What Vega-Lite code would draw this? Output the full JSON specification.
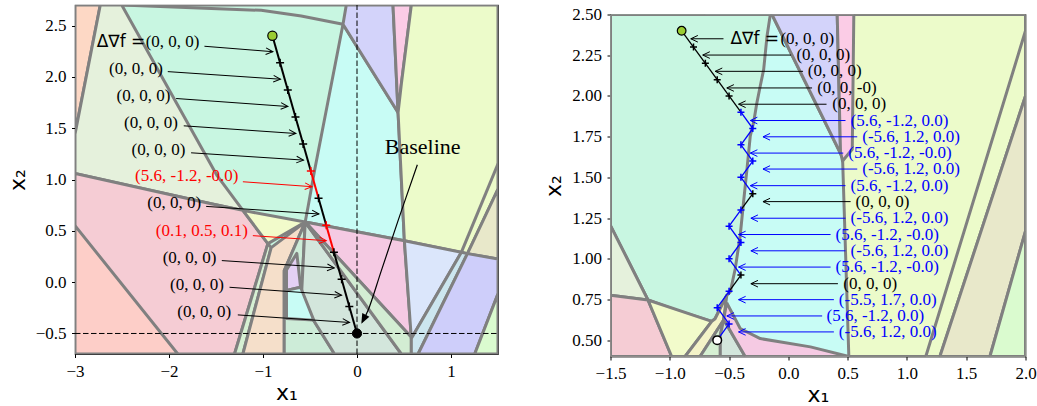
{
"$schema": "https://vega.github.io/schema/vega-lite/v6.json",
"padding": {"left": 5, "top": 4, "right": 0, "bottom": 0},
"spacing": 42.5,
"background": "white",
"config": {
 "view": {"stroke": "#404040", "strokeWidth": 1.2},
 "axis": {"labelFont": "Liberation Serif", "labelFontSize": 17, "labelColor": "#000000", "tickColor": "#000000", "tickSize": 3.5, "tickWidth": 1, "domain": false, "grid": false, "labelPadding": 5.5, "titleFont": "DejaVu Sans", "titleFontSize": 22, "titleFontWeight": "normal", "titleColor": "#000000", "labelFlush": false, "labelOverlap": false, "labelBound": false}
},
"resolve": {"scale": {"x": "independent", "y": "independent", "color": "independent"}},
"datasets": {
 "lpoly": [
  {"id":0,"z":0,"c":"mint","o":0,"x":-3,"y":2.7},{"id":0,"z":0,"c":"mint","o":1,"x":1.5,"y":2.7},{"id":0,"z":0,"c":"mint","o":2,"x":1.5,"y":-0.7},{"id":0,"z":0,"c":"mint","o":3,"x":-3,"y":-0.7},{"id":0,"z":0,"c":"mint","o":4,"x":-3,"y":2.7},
  {"id":1,"z":1,"c":"peach","o":0,"x":-3,"y":2.7},{"id":1,"z":1,"c":"peach","o":1,"x":-2.731,"y":2.7},{"id":1,"z":1,"c":"peach","o":2,"x":-3,"y":1.442},{"id":1,"z":1,"c":"peach","o":3,"x":-3,"y":2.7},
  {"id":2,"z":1,"c":"beige","o":0,"x":-2.731,"y":2.7},{"id":2,"z":1,"c":"beige","o":1,"x":-2.503,"y":2.7},{"id":2,"z":1,"c":"beige","o":2,"x":-1.488,"y":1.037},{"id":2,"z":1,"c":"beige","o":3,"x":-1.214,"y":0.699},{"id":2,"z":1,"c":"beige","o":4,"x":-1.552,"y":0.764},{"id":2,"z":1,"c":"beige","o":5,"x":-3,"y":1.059},{"id":2,"z":1,"c":"beige","o":6,"x":-3,"y":1.442},{"id":2,"z":1,"c":"beige","o":7,"x":-2.731,"y":2.7},
  {"id":3,"z":1,"c":"cyan","o":0,"x":-0.149,"y":2.512},{"id":3,"z":1,"c":"cyan","o":1,"x":0.437,"y":1.652},{"id":3,"z":1,"c":"cyan","o":2,"x":0.504,"y":0.404},{"id":3,"z":1,"c":"cyan","o":3,"x":-0.551,"y":0.585},{"id":3,"z":1,"c":"cyan","o":4,"x":-0.522,"y":0.728},{"id":3,"z":1,"c":"cyan","o":5,"x":-0.452,"y":1.085},{"id":3,"z":1,"c":"cyan","o":6,"x":-0.149,"y":2.512},
  {"id":4,"z":1,"c":"lav","o":0,"x":-0.114,"y":2.7},{"id":4,"z":1,"c":"lav","o":1,"x":0.383,"y":2.7},{"id":4,"z":1,"c":"lav","o":2,"x":0.437,"y":1.652},{"id":4,"z":1,"c":"lav","o":3,"x":-0.149,"y":2.512},{"id":4,"z":1,"c":"lav","o":4,"x":-0.114,"y":2.7},
  {"id":5,"z":1,"c":"pinkw","o":0,"x":0.383,"y":2.7},{"id":5,"z":1,"c":"pinkw","o":1,"x":0.578,"y":2.7},{"id":5,"z":1,"c":"pinkw","o":2,"x":0.472,"y":1.932},{"id":5,"z":1,"c":"pinkw","o":3,"x":0.437,"y":1.652},{"id":5,"z":1,"c":"pinkw","o":4,"x":0.383,"y":2.7},
  {"id":6,"z":1,"c":"yg","o":0,"x":0.578,"y":2.7},{"id":6,"z":1,"c":"yg","o":1,"x":1.5,"y":2.7},{"id":6,"z":1,"c":"yg","o":2,"x":1.5,"y":0.907},{"id":6,"z":1,"c":"yg","o":3,"x":1.175,"y":0.278},{"id":6,"z":1,"c":"yg","o":4,"x":0.504,"y":0.404},{"id":6,"z":1,"c":"yg","o":5,"x":0.437,"y":1.652},{"id":6,"z":1,"c":"yg","o":6,"x":0.472,"y":1.932},{"id":6,"z":1,"c":"yg","o":7,"x":0.578,"y":2.7},
  {"id":7,"z":1,"c":"khaki","o":0,"x":1.5,"y":0.907},{"id":7,"z":1,"c":"khaki","o":1,"x":1.5,"y":0.226},{"id":7,"z":1,"c":"khaki","o":2,"x":1.175,"y":0.278},{"id":7,"z":1,"c":"khaki","o":3,"x":1.5,"y":0.907},
  {"id":8,"z":1,"c":"pink","o":0,"x":-3,"y":1.059},{"id":8,"z":1,"c":"pink","o":1,"x":-1.552,"y":0.764},{"id":8,"z":1,"c":"pink","o":2,"x":-1.214,"y":0.699},{"id":8,"z":1,"c":"pink","o":3,"x":-0.948,"y":0.375},{"id":8,"z":1,"c":"pink","o":4,"x":-1.303,"y":-0.7},{"id":8,"z":1,"c":"pink","o":5,"x":-3,"y":-0.7},{"id":8,"z":1,"c":"pink","o":6,"x":-3,"y":1.059},
  {"id":9,"z":2,"c":"salmon","o":0,"x":-3,"y":0.55},{"id":9,"z":2,"c":"salmon","o":1,"x":-1.906,"y":-0.7},{"id":9,"z":2,"c":"salmon","o":2,"x":-3,"y":-0.7},{"id":9,"z":2,"c":"salmon","o":3,"x":-3,"y":0.55},
  {"id":10,"z":1,"c":"yellow","o":0,"x":-1.214,"y":0.699},{"id":10,"z":1,"c":"yellow","o":1,"x":-0.551,"y":0.585},{"id":10,"z":1,"c":"yellow","o":2,"x":-0.948,"y":0.375},{"id":10,"z":1,"c":"yellow","o":3,"x":-1.214,"y":0.699},
  {"id":11,"z":1,"c":"lgs","o":0,"x":-0.948,"y":0.375},{"id":11,"z":1,"c":"lgs","o":1,"x":-0.913,"y":0.336},{"id":11,"z":1,"c":"lgs","o":2,"x":-1.214,"y":-0.7},{"id":11,"z":1,"c":"lgs","o":3,"x":-1.303,"y":-0.7},{"id":11,"z":1,"c":"lgs","o":4,"x":-0.948,"y":0.375},
  {"id":12,"z":1,"c":"peach2","o":0,"x":-0.913,"y":0.336},{"id":12,"z":1,"c":"peach2","o":1,"x":-0.551,"y":0.585},{"id":12,"z":1,"c":"peach2","o":2,"x":-0.774,"y":0.112},{"id":12,"z":1,"c":"peach2","o":3,"x":-0.774,"y":-0.7},{"id":12,"z":1,"c":"peach2","o":4,"x":-1.214,"y":-0.7},{"id":12,"z":1,"c":"peach2","o":5,"x":-0.913,"y":0.336},
  {"id":13,"z":1,"c":"mintg","o":0,"x":-0.551,"y":0.585},{"id":13,"z":1,"c":"mintg","o":1,"x":-0.593,"y":-0.179},{"id":13,"z":1,"c":"mintg","o":2,"x":-0.239,"y":-0.7},{"id":13,"z":1,"c":"mintg","o":3,"x":-0.774,"y":-0.7},{"id":13,"z":1,"c":"mintg","o":4,"x":-0.774,"y":0.112},{"id":13,"z":1,"c":"mintg","o":5,"x":-0.551,"y":0.585},
  {"id":14,"z":2,"c":"lavp","o":0,"x":-0.75,"y":0.12},{"id":14,"z":2,"c":"lavp","o":1,"x":-0.64,"y":0.28},{"id":14,"z":2,"c":"lavp","o":2,"x":-0.6,"y":-0.05},{"id":14,"z":2,"c":"lavp","o":3,"x":-0.75,"y":-0.08},{"id":14,"z":2,"c":"lavp","o":4,"x":-0.75,"y":0.12},
  {"id":15,"z":2,"c":"cyan","o":0,"x":-0.75,"y":-0.08},{"id":15,"z":2,"c":"cyan","o":1,"x":-0.6,"y":-0.05},{"id":15,"z":2,"c":"cyan","o":2,"x":-0.46,"y":-0.37},{"id":15,"z":2,"c":"cyan","o":3,"x":-0.75,"y":-0.354},{"id":15,"z":2,"c":"cyan","o":4,"x":-0.75,"y":-0.08},
  {"id":16,"z":1,"c":"gg","o":0,"x":-0.551,"y":0.585},{"id":16,"z":1,"c":"gg","o":1,"x":0.472,"y":-0.7},{"id":16,"z":1,"c":"gg","o":2,"x":-0.239,"y":-0.7},{"id":16,"z":1,"c":"gg","o":3,"x":-0.593,"y":-0.179},{"id":16,"z":1,"c":"gg","o":4,"x":-0.551,"y":0.585},
  {"id":17,"z":1,"c":"pinkm","o":0,"x":-0.551,"y":0.585},{"id":17,"z":1,"c":"pinkm","o":1,"x":0.504,"y":0.404},{"id":17,"z":1,"c":"pinkm","o":2,"x":0.578,"y":-0.536},{"id":17,"z":1,"c":"pinkm","o":3,"x":-0.551,"y":0.585},
  {"id":18,"z":1,"c":"lgs2","o":0,"x":-0.551,"y":0.585},{"id":18,"z":1,"c":"lgs2","o":1,"x":0.578,"y":-0.536},{"id":18,"z":1,"c":"lgs2","o":2,"x":0.578,"y":-0.7},{"id":18,"z":1,"c":"lgs2","o":3,"x":0.472,"y":-0.7},{"id":18,"z":1,"c":"lgs2","o":4,"x":-0.551,"y":0.585},
  {"id":19,"z":1,"c":"lblue","o":0,"x":0.504,"y":0.404},{"id":19,"z":1,"c":"lblue","o":1,"x":1.111,"y":0.292},{"id":19,"z":1,"c":"lblue","o":2,"x":0.578,"y":-0.55},{"id":19,"z":1,"c":"lblue","o":3,"x":0.504,"y":0.404},
  {"id":20,"z":1,"c":"lcs","o":0,"x":1.111,"y":0.292},{"id":20,"z":1,"c":"lcs","o":1,"x":1.175,"y":0.278},{"id":20,"z":1,"c":"lcs","o":2,"x":0.65,"y":-0.7},{"id":20,"z":1,"c":"lcs","o":3,"x":0.578,"y":-0.7},{"id":20,"z":1,"c":"lcs","o":4,"x":0.578,"y":-0.55},{"id":20,"z":1,"c":"lcs","o":5,"x":1.111,"y":0.292},
  {"id":21,"z":1,"c":"lav2","o":0,"x":1.175,"y":0.278},{"id":21,"z":1,"c":"lav2","o":1,"x":1.5,"y":0.226},{"id":21,"z":1,"c":"lav2","o":2,"x":1.5,"y":-0.114},{"id":21,"z":1,"c":"lav2","o":3,"x":1.252,"y":-0.7},{"id":21,"z":1,"c":"lav2","o":4,"x":0.65,"y":-0.7},{"id":21,"z":1,"c":"lav2","o":5,"x":1.175,"y":0.278},
  {"id":22,"z":1,"c":"lg3","o":0,"x":1.5,"y":-0.114},{"id":22,"z":1,"c":"lg3","o":1,"x":1.5,"y":-0.7},{"id":22,"z":1,"c":"lg3","o":2,"x":1.252,"y":-0.7},{"id":22,"z":1,"c":"lg3","o":3,"x":1.5,"y":-0.114}
 ],
 "lline": [
  {"id":0,"o":0,"x":-2.503,"y":2.7},{"id":0,"o":1,"x":-1.019,"y":2.648},{"id":0,"o":2,"x":-0.593,"y":2.593},{"id":0,"o":3,"x":-0.149,"y":2.512},
  {"id":1,"o":0,"x":1.5,"y":1.153},{"id":1,"o":1,"x":1.111,"y":0.292}
 ],
 "ldash": [{"x":0,"y":-0.7,"x2":0,"y2":2.7},{"x":-3,"y":-0.5,"x2":1.5,"y2":-0.5}],
 "lseg": [
  {"x":-0.9,"y":2.4,"x2":-0.8182,"y2":2.1364,"t":"k"},
  {"x":-0.8182,"y":2.1364,"x2":-0.7364,"y2":1.8727,"t":"k"},
  {"x":-0.7364,"y":1.8727,"x2":-0.6545,"y2":1.6091,"t":"k"},
  {"x":-0.6545,"y":1.6091,"x2":-0.5727,"y2":1.3455,"t":"k"},
  {"x":-0.5727,"y":1.3455,"x2":-0.4909,"y2":1.0818,"t":"k"},
  {"x":-0.4909,"y":1.0818,"x2":-0.4091,"y2":0.8182,"t":"r"},
  {"x":-0.4091,"y":0.8182,"x2":-0.3273,"y2":0.5545,"t":"k"},
  {"x":-0.3273,"y":0.5545,"x2":-0.2455,"y2":0.2909,"t":"r"},
  {"x":-0.2455,"y":0.2909,"x2":-0.1636,"y2":0.0273,"t":"k"},
  {"x":-0.1636,"y":0.0273,"x2":-0.0818,"y2":-0.2364,"t":"k"},
  {"x":-0.0818,"y":-0.2364,"x2":0,"y2":-0.5,"t":"k"}
 ],
 "lmk": [
  {"x":-0.8182,"y":2.1364,"t":"k"},{"x":-0.7364,"y":1.8727,"t":"k"},{"x":-0.6545,"y":1.6091,"t":"k"},{"x":-0.5727,"y":1.3455,"t":"k"},{"x":-0.4909,"y":1.0818,"t":"r"},
  {"x":-0.4091,"y":0.8182,"t":"k"},{"x":-0.3273,"y":0.5545,"t":"r"},{"x":-0.2455,"y":0.2909,"t":"k"},{"x":-0.1636,"y":0.0273,"t":"k"},{"x":-0.0818,"y":-0.2364,"t":"k"}
 ],
 "larr": [
  {"x":-1.623,"y":2.298,"x2":-0.895,"y2":2.245,"t":"k"},
  {"x":-2.013,"y":2.051,"x2":-0.814,"y2":1.977,"t":"k"},
  {"x":-1.924,"y":1.789,"x2":-0.735,"y2":1.711,"t":"k"},
  {"x":-1.843,"y":1.523,"x2":-0.65,"y2":1.448,"t":"k"},
  {"x":-1.765,"y":1.26,"x2":-0.569,"y2":1.189,"t":"k"},
  {"x":-1.214,"y":0.978,"x2":-0.479,"y2":0.93,"t":"r"},
  {"x":-1.605,"y":0.738,"x2":-0.405,"y2":0.664,"t":"k"},
  {"x":-1.108,"y":0.453,"x2":-0.327,"y2":0.404,"t":"r"},
  {"x":-1.438,"y":0.21,"x2":-0.242,"y2":0.139,"t":"k"},
  {"x":-1.356,"y":-0.05,"x2":-0.164,"y2":-0.128,"t":"k"},
  {"x":-1.268,"y":-0.319,"x2":-0.079,"y2":-0.393,"t":"k"}
 ],
 "lhead": [
  {"x":-0.895,"y":2.245,"t":"k"},{"x":-0.814,"y":1.977,"t":"k"},{"x":-0.735,"y":1.711,"t":"k"},{"x":-0.65,"y":1.448,"t":"k"},{"x":-0.569,"y":1.189,"t":"k"},
  {"x":-0.479,"y":0.93,"t":"r"},{"x":-0.405,"y":0.664,"t":"k"},{"x":-0.327,"y":0.404,"t":"r"},{"x":-0.242,"y":0.139,"t":"k"},{"x":-0.164,"y":-0.128,"t":"k"},{"x":-0.079,"y":-0.393,"t":"k"}
 ],
 "ltxt": [
  {"x":-1.676,"y":2.343,"s":"(0, 0, 0)","t":"k"},
  {"x":-2.066,"y":2.077,"s":"(0, 0, 0)","t":"k"},
  {"x":-1.985,"y":1.815,"s":"(0, 0, 0)","t":"k"},
  {"x":-1.906,"y":1.549,"s":"(0, 0, 0)","t":"k"},
  {"x":-1.826,"y":1.286,"s":"(0, 0, 0)","t":"k"},
  {"x":-1.261,"y":1.03,"s":"(5.6, -1.2, -0.0)","t":"r"},
  {"x":-1.658,"y":0.767,"s":"(0, 0, 0)","t":"k"},
  {"x":-1.161,"y":0.502,"s":"(0.1, 0.5, 0.1)","t":"r"},
  {"x":-1.495,"y":0.239,"s":"(0, 0, 0)","t":"k"},
  {"x":-1.416,"y":-0.027,"s":"(0, 0, 0)","t":"k"},
  {"x":-1.339,"y":-0.29,"s":"(0, 0, 0)","t":"k"}
 ],
 "ldel": [{"x":-2.252,"y":2.343,"s":"Δ∇f ="}],
 "lbl": [{"x":0.699,"y":1.321,"s":"Baseline"}],
 "lcurve": [{"o":0,"x":0.642,"y":1.144},{"o":1,"x":0.437,"y":0.599},{"o":2,"x":0.259,"y":0.112},{"o":3,"x":0.117,"y":-0.277},{"o":4,"x":0.055,"y":-0.39}],
 "lbhead": [{"x":0.046,"y":-0.406}],
 "lstart": [{"x":-0.9,"y":2.4}],
 "lend": [{"x":0,"y":-0.5}],
 "rpoly": [
  {"id":0,"z":0,"c":"yg","o":0,"x":-1.5,"y":2.5},{"id":0,"z":0,"c":"yg","o":1,"x":2,"y":2.5},{"id":0,"z":0,"c":"yg","o":2,"x":2,"y":0.4},{"id":0,"z":0,"c":"yg","o":3,"x":-1.5,"y":0.4},{"id":0,"z":0,"c":"yg","o":4,"x":-1.5,"y":2.5},
  {"id":1,"z":1,"c":"cyan","o":0,"x":-0.3,"y":2.5},{"id":1,"z":1,"c":"cyan","o":1,"x":-0.138,"y":2.5},{"id":1,"z":1,"c":"cyan","o":2,"x":0.457,"y":1.622},{"id":1,"z":1,"c":"cyan","o":3,"x":0.51,"y":0.4},{"id":1,"z":1,"c":"cyan","o":4,"x":-0.7,"y":0.4},{"id":1,"z":1,"c":"cyan","o":5,"x":-0.7,"y":2.5},{"id":1,"z":1,"c":"cyan","o":6,"x":-0.3,"y":2.5},
  {"id":2,"z":1,"c":"lav","o":0,"x":-0.138,"y":2.5},{"id":2,"z":1,"c":"lav","o":1,"x":0.412,"y":2.5},{"id":2,"z":1,"c":"lav","o":2,"x":0.44,"y":1.653},{"id":2,"z":1,"c":"lav","o":3,"x":0.457,"y":1.622},{"id":2,"z":1,"c":"lav","o":4,"x":-0.138,"y":2.5},
  {"id":3,"z":1,"c":"pinkw","o":0,"x":0.412,"y":2.5},{"id":3,"z":1,"c":"pinkw","o":1,"x":0.552,"y":2.5},{"id":3,"z":1,"c":"pinkw","o":2,"x":0.539,"y":1.673},{"id":3,"z":1,"c":"pinkw","o":3,"x":0.457,"y":1.6},{"id":3,"z":1,"c":"pinkw","o":4,"x":0.44,"y":1.653},{"id":3,"z":1,"c":"pinkw","o":5,"x":0.412,"y":2.5},
  {"id":4,"z":1,"c":"yg","o":0,"x":2,"y":2.4},{"id":4,"z":1,"c":"yg","o":1,"x":2,"y":2.0},{"id":4,"z":1,"c":"yg","o":2,"x":1.278,"y":0.4},{"id":4,"z":1,"c":"yg","o":3,"x":1.159,"y":0.4},{"id":4,"z":1,"c":"yg","o":4,"x":2,"y":2.4},
  {"id":5,"z":1,"c":"khaki","o":0,"x":2,"y":2.0},{"id":5,"z":1,"c":"khaki","o":1,"x":2,"y":1.17},{"id":5,"z":1,"c":"khaki","o":2,"x":1.7,"y":0.4},{"id":5,"z":1,"c":"khaki","o":3,"x":1.278,"y":0.4},{"id":5,"z":1,"c":"khaki","o":4,"x":2,"y":2.0},
  {"id":6,"z":1,"c":"lg3","o":0,"x":2,"y":1.17},{"id":6,"z":1,"c":"lg3","o":1,"x":2,"y":0.4},{"id":6,"z":1,"c":"lg3","o":2,"x":1.7,"y":0.4},{"id":6,"z":1,"c":"lg3","o":3,"x":2,"y":1.17},
  {"id":7,"z":2,"c":"mint","o":0,"x":-1.5,"y":2.5},{"id":7,"z":2,"c":"mint","o":1,"x":-0.152,"y":2.5},{"id":7,"z":2,"c":"mint","o":2,"x":-0.18,"y":2.367},{"id":7,"z":2,"c":"mint","o":3,"x":-0.208,"y":2.163},{"id":7,"z":2,"c":"mint","o":4,"x":-0.237,"y":2.061},{"id":7,"z":2,"c":"mint","o":5,"x":-0.265,"y":1.959},{"id":7,"z":2,"c":"mint","o":6,"x":-0.293,"y":1.837},{"id":7,"z":2,"c":"mint","o":7,"x":-0.321,"y":1.755},{"id":7,"z":2,"c":"mint","o":8,"x":-0.349,"y":1.551},{"id":7,"z":2,"c":"mint","o":9,"x":-0.378,"y":1.347},{"id":7,"z":2,"c":"mint","o":10,"x":-0.406,"y":1.143},{"id":7,"z":2,"c":"mint","o":11,"x":-0.448,"y":0.939},{"id":7,"z":2,"c":"mint","o":12,"x":-0.49,"y":0.796},{"id":7,"z":2,"c":"mint","o":13,"x":-0.519,"y":0.776},{"id":7,"z":2,"c":"mint","o":14,"x":-0.618,"y":0.632},{"id":7,"z":2,"c":"mint","o":15,"x":-0.646,"y":0.616},{"id":7,"z":2,"c":"mint","o":16,"x":-0.9,"y":0.673},{"id":7,"z":2,"c":"mint","o":17,"x":-1.184,"y":0.747},{"id":7,"z":2,"c":"mint","o":18,"x":-1.5,"y":1.204},{"id":7,"z":2,"c":"mint","o":19,"x":-1.5,"y":2.5},
  {"id":8,"z":2,"c":"beige","o":0,"x":-1.5,"y":1.204},{"id":8,"z":2,"c":"beige","o":1,"x":-1.184,"y":0.747},{"id":8,"z":2,"c":"beige","o":2,"x":-1.5,"y":0.776},{"id":8,"z":2,"c":"beige","o":3,"x":-1.5,"y":1.204},
  {"id":9,"z":2,"c":"pink","o":0,"x":-1.5,"y":0.776},{"id":9,"z":2,"c":"pink","o":1,"x":-1.184,"y":0.747},{"id":9,"z":2,"c":"pink","o":2,"x":-0.984,"y":0.4},{"id":9,"z":2,"c":"pink","o":3,"x":-1.5,"y":0.4},{"id":9,"z":2,"c":"pink","o":4,"x":-1.5,"y":0.776},
  {"id":10,"z":2,"c":"yellow","o":0,"x":-1.184,"y":0.747},{"id":10,"z":2,"c":"yellow","o":1,"x":-0.646,"y":0.616},{"id":10,"z":2,"c":"yellow","o":2,"x":-0.871,"y":0.4},{"id":10,"z":2,"c":"yellow","o":3,"x":-0.984,"y":0.4},{"id":10,"z":2,"c":"yellow","o":4,"x":-1.184,"y":0.747},
  {"id":11,"z":2,"c":"pys","o":0,"x":-0.646,"y":0.616},{"id":11,"z":2,"c":"pys","o":1,"x":-0.618,"y":0.632},{"id":11,"z":2,"c":"pys","o":2,"x":-0.519,"y":0.776},{"id":11,"z":2,"c":"pys","o":3,"x":-0.547,"y":0.622},{"id":11,"z":2,"c":"pys","o":4,"x":-0.745,"y":0.4},{"id":11,"z":2,"c":"pys","o":5,"x":-0.871,"y":0.4},{"id":11,"z":2,"c":"pys","o":6,"x":-0.646,"y":0.616},
  {"id":12,"z":2,"c":"lgs","o":0,"x":-0.745,"y":0.4},{"id":12,"z":2,"c":"lgs","o":1,"x":-0.547,"y":0.622},{"id":12,"z":2,"c":"lgs","o":2,"x":-0.574,"y":0.53},{"id":12,"z":2,"c":"lgs","o":3,"x":-0.574,"y":0.4},{"id":12,"z":2,"c":"lgs","o":4,"x":-0.745,"y":0.4},
  {"id":13,"z":2,"c":"gg","o":0,"x":-0.574,"y":0.4},{"id":13,"z":2,"c":"gg","o":1,"x":-0.574,"y":0.53},{"id":13,"z":2,"c":"gg","o":2,"x":-0.547,"y":0.622},{"id":13,"z":2,"c":"gg","o":3,"x":-0.533,"y":0.612},{"id":13,"z":2,"c":"gg","o":4,"x":-0.364,"y":0.4},{"id":13,"z":2,"c":"gg","o":5,"x":-0.574,"y":0.4},
  {"id":14,"z":2,"c":"pinkm","o":0,"x":-0.52,"y":0.73},{"id":14,"z":2,"c":"pinkm","o":1,"x":-0.406,"y":0.572},{"id":14,"z":2,"c":"pinkm","o":2,"x":-0.237,"y":0.51},{"id":14,"z":2,"c":"pinkm","o":3,"x":0.186,"y":0.459},{"id":14,"z":2,"c":"pinkm","o":4,"x":0.51,"y":0.4},{"id":14,"z":2,"c":"pinkm","o":5,"x":-0.364,"y":0.4},{"id":14,"z":2,"c":"pinkm","o":6,"x":-0.533,"y":0.612},{"id":14,"z":2,"c":"pinkm","o":7,"x":-0.547,"y":0.622},{"id":14,"z":2,"c":"pinkm","o":8,"x":-0.52,"y":0.73}
 ],
 "rseg": [
  {"x":-0.9,"y":2.4,"x2":-0.8,"y2":2.3,"t":"k"},{"x":-0.8,"y":2.3,"x2":-0.7,"y2":2.2,"t":"k"},{"x":-0.7,"y":2.2,"x2":-0.6,"y2":2.1,"t":"k"},{"x":-0.6,"y":2.1,"x2":-0.5,"y2":2.0,"t":"k"},{"x":-0.5,"y":2.0,"x2":-0.4,"y2":1.9,"t":"k"},
  {"x":-0.4,"y":1.9,"x2":-0.3,"y2":1.8,"t":"b"},{"x":-0.3,"y":1.8,"x2":-0.4,"y2":1.7,"t":"b"},{"x":-0.4,"y":1.7,"x2":-0.3,"y2":1.6,"t":"b"},{"x":-0.3,"y":1.6,"x2":-0.4,"y2":1.5,"t":"b"},{"x":-0.4,"y":1.5,"x2":-0.3,"y2":1.4,"t":"b"},
  {"x":-0.3,"y":1.4,"x2":-0.4,"y2":1.3,"t":"k"},
  {"x":-0.4,"y":1.3,"x2":-0.5,"y2":1.2,"t":"b"},{"x":-0.5,"y":1.2,"x2":-0.4,"y2":1.1,"t":"b"},{"x":-0.4,"y":1.1,"x2":-0.5,"y2":1.0,"t":"b"},{"x":-0.5,"y":1.0,"x2":-0.4,"y2":0.9,"t":"b"},
  {"x":-0.4,"y":0.9,"x2":-0.5,"y2":0.8,"t":"k"},
  {"x":-0.5,"y":0.8,"x2":-0.6,"y2":0.7,"t":"b"},{"x":-0.6,"y":0.7,"x2":-0.5,"y2":0.6,"t":"b"},{"x":-0.5,"y":0.6,"x2":-0.6,"y2":0.5,"t":"b"}
 ],
 "rmk": [
  {"x":-0.8,"y":2.3,"t":"k"},{"x":-0.7,"y":2.2,"t":"k"},{"x":-0.6,"y":2.1,"t":"k"},{"x":-0.5,"y":2.0,"t":"k"},{"x":-0.4,"y":1.9,"t":"b"},{"x":-0.3,"y":1.8,"t":"b"},
  {"x":-0.4,"y":1.7,"t":"b"},{"x":-0.3,"y":1.6,"t":"b"},{"x":-0.4,"y":1.5,"t":"b"},{"x":-0.3,"y":1.4,"t":"k"},{"x":-0.4,"y":1.3,"t":"b"},{"x":-0.5,"y":1.2,"t":"b"},
  {"x":-0.4,"y":1.1,"t":"b"},{"x":-0.5,"y":1.0,"t":"b"},{"x":-0.4,"y":0.9,"t":"k"},{"x":-0.5,"y":0.8,"t":"b"},{"x":-0.6,"y":0.7,"t":"b"},{"x":-0.5,"y":0.6,"t":"b"}
 ],
 "rarr": [
  {"x":-0.547,"x2":-0.823,"y":2.351,"y2":2.351,"t":"k"},{"x":0.023,"x2":-0.722,"y":2.251,"y2":2.251,"t":"k"},{"x":0.124,"x2":-0.617,"y":2.151,"y2":2.151,"t":"k"},{"x":0.2,"x2":-0.519,"y":2.049,"y2":2.049,"t":"k"},{"x":0.322,"x2":-0.42,"y":1.949,"y2":1.949,"t":"k"},
  {"x":0.482,"x2":-0.321,"y":1.849,"y2":1.849,"t":"b"},{"x":0.581,"x2":-0.214,"y":1.749,"y2":1.749,"t":"b"},{"x":0.463,"x2":-0.321,"y":1.649,"y2":1.649,"t":"b"},{"x":0.581,"x2":-0.214,"y":1.551,"y2":1.551,"t":"b"},{"x":0.482,"x2":-0.321,"y":1.449,"y2":1.449,"t":"b"},
  {"x":0.525,"x2":-0.214,"y":1.351,"y2":1.351,"t":"k"},{"x":0.482,"x2":-0.316,"y":1.249,"y2":1.249,"t":"b"},{"x":0.356,"x2":-0.42,"y":1.149,"y2":1.149,"t":"b"},{"x":0.482,"x2":-0.316,"y":1.049,"y2":1.049,"t":"b"},{"x":0.356,"x2":-0.42,"y":0.949,"y2":0.949,"t":"b"},
  {"x":0.418,"x2":-0.316,"y":0.847,"y2":0.847,"t":"k"},{"x":0.384,"x2":-0.42,"y":0.749,"y2":0.749,"t":"b"},{"x":0.285,"x2":-0.519,"y":0.649,"y2":0.649,"t":"b"},{"x":0.384,"x2":-0.42,"y":0.551,"y2":0.551,"t":"b"}
 ],
 "rhead": [
  {"x":-0.823,"y":2.351,"t":"k"},{"x":-0.722,"y":2.251,"t":"k"},{"x":-0.617,"y":2.151,"t":"k"},{"x":-0.519,"y":2.049,"t":"k"},{"x":-0.42,"y":1.949,"t":"k"},
  {"x":-0.321,"y":1.849,"t":"b"},{"x":-0.214,"y":1.749,"t":"b"},{"x":-0.321,"y":1.649,"t":"b"},{"x":-0.214,"y":1.551,"t":"b"},{"x":-0.321,"y":1.449,"t":"b"},
  {"x":-0.214,"y":1.351,"t":"k"},{"x":-0.316,"y":1.249,"t":"b"},{"x":-0.42,"y":1.149,"t":"b"},{"x":-0.316,"y":1.049,"t":"b"},{"x":-0.42,"y":0.949,"t":"b"},
  {"x":-0.316,"y":0.847,"t":"k"},{"x":-0.42,"y":0.749,"t":"b"},{"x":-0.519,"y":0.649,"t":"b"},{"x":-0.42,"y":0.551,"t":"b"}
 ],
 "rtxt": [
  {"x":-0.067,"y":2.351,"s":"(0, 0, 0)","t":"k"},{"x":0.068,"y":2.251,"s":"(0, 0, 0)","t":"k"},{"x":0.164,"y":2.151,"s":"(0, 0, 0)","t":"k"},{"x":0.243,"y":2.049,"s":"(0, 0, -0)","t":"k"},{"x":0.37,"y":1.949,"s":"(0, 0, 0)","t":"k"},
  {"x":0.525,"y":1.849,"s":"(5.6, -1.2, 0.0)","t":"b"},{"x":0.623,"y":1.749,"s":"(-5.6, 1.2, 0.0)","t":"b"},{"x":0.505,"y":1.649,"s":"(5.6, -1.2, -0.0)","t":"b"},{"x":0.623,"y":1.551,"s":"(-5.6, 1.2, 0.0)","t":"b"},{"x":0.525,"y":1.449,"s":"(5.6, -1.2, 0.0)","t":"b"},
  {"x":0.567,"y":1.351,"s":"(0, 0, 0)","t":"k"},{"x":0.525,"y":1.249,"s":"(-5.6, 1.2, 0.0)","t":"b"},{"x":0.398,"y":1.149,"s":"(5.6, -1.2, -0.0)","t":"b"},{"x":0.525,"y":1.049,"s":"(-5.6, 1.2, 0.0)","t":"b"},{"x":0.398,"y":0.949,"s":"(5.6, -1.2, -0.0)","t":"b"},
  {"x":0.463,"y":0.847,"s":"(0, 0, 0)","t":"k"},{"x":0.426,"y":0.749,"s":"(-5.5, 1.7, 0.0)","t":"b"},{"x":0.322,"y":0.649,"s":"(5.6, -1.2, 0.0)","t":"b"},{"x":0.426,"y":0.551,"s":"(-5.6, 1.2, 0.0)","t":"b"}
 ],
 "rdel": [{"x":-0.078,"y":2.351,"s":"Δ∇f ="}],
 "rstart": [{"x":-0.9,"y":2.4}],
 "rend": [{"x":-0.6,"y":0.5}]
},
"hconcat": [
 {
  "width": 423, "height": 349,
  "resolve": {"scale": {"color": "independent"}},
  "encoding": {
   "x": {"field": "x", "type": "quantitative", "scale": {"domain": [-3, 1.5], "nice": false, "zero": false}, "axis": {"values": [-3, -2, -1, 0, 1], "format": "d", "title": "x₁", "titlePadding": 3}},
   "y": {"field": "y", "type": "quantitative", "scale": {"domain": [-0.7, 2.7], "nice": false, "zero": false}, "axis": {"values": [-0.5, 0, 0.5, 1, 1.5, 2, 2.5], "format": ".1f", "title": "x₂", "titlePadding": 6}}
  },
  "layer": [
   {"data": {"name": "lpoly"}, "transform": [{"filter": "datum.z == 0"}], "mark": {"type": "line", "filled": true, "stroke": "#808080", "strokeWidth": 3, "strokeJoin": "round", "clip": true}, "encoding": {"color": {"field": "c", "type": "nominal", "legend": null, "scale": {"domain": ["mint","peach","beige","cyan","lav","pinkw","yg","khaki","pink","salmon","yellow","lgs","peach2","mintg","lavp","gg","pinkm","lgs2","lblue","lcs","lav2","lg3","pys"], "range": ["#c8f6e1","#fdd8c5","#e5f1dc","#c8fcf5","#d3d3fa","#fbcce6","#ecfbca","#e8e8ca","#f5ccd4","#fdcec8","#f2fbcb","#d6f0d3","#f5dfca","#cdecd8","#e4d0f4","#d3e6dc","#f5cae3","#d3edd3","#dbe6fb","#cce6ef","#cecefa","#dafbcf","#f4f3c8"]}}, "detail": {"field": "id"}, "order": {"field": "o", "type": "quantitative"}}},
   {"data": {"name": "lpoly"}, "transform": [{"filter": "datum.z == 1"}], "mark": {"type": "line", "filled": true, "stroke": "#808080", "strokeWidth": 3, "strokeJoin": "round", "clip": true}, "encoding": {"color": {"field": "c", "type": "nominal", "legend": null, "scale": {"domain": ["mint","peach","beige","cyan","lav","pinkw","yg","khaki","pink","salmon","yellow","lgs","peach2","mintg","lavp","gg","pinkm","lgs2","lblue","lcs","lav2","lg3","pys"], "range": ["#c8f6e1","#fdd8c5","#e5f1dc","#c8fcf5","#d3d3fa","#fbcce6","#ecfbca","#e8e8ca","#f5ccd4","#fdcec8","#f2fbcb","#d6f0d3","#f5dfca","#cdecd8","#e4d0f4","#d3e6dc","#f5cae3","#d3edd3","#dbe6fb","#cce6ef","#cecefa","#dafbcf","#f4f3c8"]}}, "detail": {"field": "id"}, "order": {"field": "o", "type": "quantitative"}}},
   {"data": {"name": "lpoly"}, "transform": [{"filter": "datum.z == 2"}], "mark": {"type": "line", "filled": true, "stroke": "#808080", "strokeWidth": 3, "strokeJoin": "round", "clip": true}, "encoding": {"color": {"field": "c", "type": "nominal", "legend": null, "scale": {"domain": ["mint","peach","beige","cyan","lav","pinkw","yg","khaki","pink","salmon","yellow","lgs","peach2","mintg","lavp","gg","pinkm","lgs2","lblue","lcs","lav2","lg3","pys"], "range": ["#c8f6e1","#fdd8c5","#e5f1dc","#c8fcf5","#d3d3fa","#fbcce6","#ecfbca","#e8e8ca","#f5ccd4","#fdcec8","#f2fbcb","#d6f0d3","#f5dfca","#cdecd8","#e4d0f4","#d3e6dc","#f5cae3","#d3edd3","#dbe6fb","#cce6ef","#cecefa","#dafbcf","#f4f3c8"]}}, "detail": {"field": "id"}, "order": {"field": "o", "type": "quantitative"}}},
   {"data": {"name": "lline"}, "mark": {"type": "line", "color": "#808080", "strokeWidth": 3, "clip": true}, "encoding": {"detail": {"field": "id"}, "order": {"field": "o", "type": "quantitative"}}},
   {"data": {"name": "ldash"}, "mark": {"type": "rule", "color": "#000000", "strokeWidth": 1, "strokeDash": [5.5, 2.5], "clip": true}, "encoding": {"x2": {"field": "x2"}, "y2": {"field": "y2"}}},
   {"data": {"name": "larr"}, "mark": {"type": "rule", "strokeWidth": 1}, "encoding": {"x2": {"field": "x2"}, "y2": {"field": "y2"}, "color": {"field": "t", "type": "nominal", "legend": null, "scale": {"domain": ["k","r","b"], "range": ["#000000","#ff0000","#0000ff"]}}}},
   {"data": {"name": "lhead"}, "mark": {"type": "point", "shape": "M-1,-0.47L0,0L-1,0.47", "filled": false, "size": 200, "angle": 4.3, "strokeWidth": 1, "opacity": 1}, "encoding": {"color": {"field": "t", "type": "nominal", "legend": null, "scale": {"domain": ["k","r","b"], "range": ["#000000","#ff0000","#0000ff"]}}}},
   {"data": {"name": "lseg"}, "mark": {"type": "rule", "strokeWidth": 2}, "encoding": {"x2": {"field": "x2"}, "y2": {"field": "y2"}, "color": {"field": "t", "type": "nominal", "legend": null, "scale": {"domain": ["k","r","b"], "range": ["#000000","#ff0000","#0000ff"]}}}},
   {"data": {"name": "lmk"}, "mark": {"type": "point", "shape": "M-1,0H1M0,-1V1", "filled": false, "size": 64, "strokeWidth": 1.5, "opacity": 1}, "encoding": {"color": {"field": "t", "type": "nominal", "legend": null, "scale": {"domain": ["k","r","b"], "range": ["#000000","#ff0000","#0000ff"]}}}},
   {"data": {"name": "ltxt"}, "mark": {"type": "text", "font": "Liberation Serif", "fontSize": 17, "align": "right", "baseline": "middle"}, "encoding": {"text": {"field": "s"}, "color": {"field": "t", "type": "nominal", "legend": null, "scale": {"domain": ["k","r","b"], "range": ["#000000","#ff0000","#0000ff"]}}}},
   {"data": {"name": "ldel"}, "mark": {"type": "text", "font": "DejaVu Sans", "fontSize": 17, "align": "right", "baseline": "middle", "color": "#000000"}, "encoding": {"text": {"field": "s"}}},
   {"data": {"name": "lbl"}, "mark": {"type": "text", "font": "Liberation Serif", "fontSize": 22, "align": "center", "baseline": "middle", "color": "#000000"}, "encoding": {"text": {"field": "s"}}},
   {"data": {"name": "lcurve"}, "mark": {"type": "line", "color": "#000000", "strokeWidth": 1.2, "interpolate": "catmull-rom"}, "encoding": {"order": {"field": "o", "type": "quantitative"}}},
   {"data": {"name": "lbhead"}, "mark": {"type": "point", "shape": "M0,0L-1,-0.4L-1,0.4Z", "filled": true, "color": "#000000", "size": 400, "angle": 116.7, "opacity": 1}},
   {"data": {"name": "lstart"}, "mark": {"type": "point", "filled": true, "fill": "#9acd32", "stroke": "#000000", "strokeWidth": 1.2, "size": 85, "opacity": 1}},
   {"data": {"name": "lend"}, "mark": {"type": "point", "filled": true, "fill": "#000000", "stroke": "#000000", "strokeWidth": 1, "size": 85, "opacity": 1}}
  ]
 },
 {
  "spacing": -1.5,
  "resolve": {"scale": {"x": "independent", "y": "independent", "color": "independent"}},
  "vconcat": [
   {"width": 415, "height": 1, "view": {"stroke": null, "fill": "transparent"}, "data": {"values": []}, "mark": {"type": "point"}, "encoding": {}},
   {
    "width": 415, "height": 342,
    "resolve": {"scale": {"color": "independent"}},
    "encoding": {
     "x": {"field": "x", "type": "quantitative", "scale": {"domain": [-1.5, 2], "nice": false, "zero": false}, "axis": {"values": [-1.5, -1, -0.5, 0, 0.5, 1, 1.5, 2], "format": ".1f", "title": "x₁", "titlePadding": 3}},
     "y": {"field": "y", "type": "quantitative", "scale": {"domain": [0.4, 2.5], "nice": false, "zero": false}, "axis": {"values": [0.5, 0.75, 1, 1.25, 1.5, 1.75, 2, 2.25, 2.5], "format": ".2f", "title": "x₂", "titlePadding": 6}}
    },
    "layer": [
     {"data": {"name": "rpoly"}, "transform": [{"filter": "datum.z == 0"}], "mark": {"type": "line", "filled": true, "stroke": "#808080", "strokeWidth": 3, "strokeJoin": "round", "clip": true}, "encoding": {"color": {"field": "c", "type": "nominal", "legend": null, "scale": {"domain": ["mint","peach","beige","cyan","lav","pinkw","yg","khaki","pink","salmon","yellow","lgs","peach2","mintg","lavp","gg","pinkm","lgs2","lblue","lcs","lav2","lg3","pys"], "range": ["#c8f6e1","#fdd8c5","#e5f1dc","#c8fcf5","#d3d3fa","#fbcce6","#ecfbca","#e8e8ca","#f5ccd4","#fdcec8","#f2fbcb","#d6f0d3","#f5dfca","#cdecd8","#e4d0f4","#d3e6dc","#f5cae3","#d3edd3","#dbe6fb","#cce6ef","#cecefa","#dafbcf","#f4f3c8"]}}, "detail": {"field": "id"}, "order": {"field": "o", "type": "quantitative"}}},
     {"data": {"name": "rpoly"}, "transform": [{"filter": "datum.z == 1"}], "mark": {"type": "line", "filled": true, "stroke": "#808080", "strokeWidth": 3, "strokeJoin": "round", "clip": true}, "encoding": {"color": {"field": "c", "type": "nominal", "legend": null, "scale": {"domain": ["mint","peach","beige","cyan","lav","pinkw","yg","khaki","pink","salmon","yellow","lgs","peach2","mintg","lavp","gg","pinkm","lgs2","lblue","lcs","lav2","lg3","pys"], "range": ["#c8f6e1","#fdd8c5","#e5f1dc","#c8fcf5","#d3d3fa","#fbcce6","#ecfbca","#e8e8ca","#f5ccd4","#fdcec8","#f2fbcb","#d6f0d3","#f5dfca","#cdecd8","#e4d0f4","#d3e6dc","#f5cae3","#d3edd3","#dbe6fb","#cce6ef","#cecefa","#dafbcf","#f4f3c8"]}}, "detail": {"field": "id"}, "order": {"field": "o", "type": "quantitative"}}},
     {"data": {"name": "rpoly"}, "transform": [{"filter": "datum.z == 2"}], "mark": {"type": "line", "filled": true, "stroke": "#808080", "strokeWidth": 3, "strokeJoin": "round", "clip": true}, "encoding": {"color": {"field": "c", "type": "nominal", "legend": null, "scale": {"domain": ["mint","peach","beige","cyan","lav","pinkw","yg","khaki","pink","salmon","yellow","lgs","peach2","mintg","lavp","gg","pinkm","lgs2","lblue","lcs","lav2","lg3","pys"], "range": ["#c8f6e1","#fdd8c5","#e5f1dc","#c8fcf5","#d3d3fa","#fbcce6","#ecfbca","#e8e8ca","#f5ccd4","#fdcec8","#f2fbcb","#d6f0d3","#f5dfca","#cdecd8","#e4d0f4","#d3e6dc","#f5cae3","#d3edd3","#dbe6fb","#cce6ef","#cecefa","#dafbcf","#f4f3c8"]}}, "detail": {"field": "id"}, "order": {"field": "o", "type": "quantitative"}}},
     {"data": {"name": "rarr"}, "mark": {"type": "rule", "strokeWidth": 1}, "encoding": {"x2": {"field": "x2"}, "y2": {"field": "y2"}, "color": {"field": "t", "type": "nominal", "legend": null, "scale": {"domain": ["k","r","b"], "range": ["#000000","#ff0000","#0000ff"]}}}},
     {"data": {"name": "rhead"}, "mark": {"type": "point", "shape": "M-1,-0.47L0,0L-1,0.47", "filled": false, "size": 200, "angle": 180, "strokeWidth": 1, "opacity": 1}, "encoding": {"color": {"field": "t", "type": "nominal", "legend": null, "scale": {"domain": ["k","r","b"], "range": ["#000000","#ff0000","#0000ff"]}}}},
     {"data": {"name": "rseg"}, "mark": {"type": "rule", "strokeWidth": 1.3}, "encoding": {"x2": {"field": "x2"}, "y2": {"field": "y2"}, "color": {"field": "t", "type": "nominal", "legend": null, "scale": {"domain": ["k","r","b"], "range": ["#000000","#ff0000","#0000ff"]}}}},
     {"data": {"name": "rmk"}, "mark": {"type": "point", "shape": "M-1,0H1M0,-1V1", "filled": false, "size": 49, "strokeWidth": 1.5, "opacity": 1}, "encoding": {"color": {"field": "t", "type": "nominal", "legend": null, "scale": {"domain": ["k","r","b"], "range": ["#000000","#ff0000","#0000ff"]}}}},
     {"data": {"name": "rtxt"}, "mark": {"type": "text", "font": "Liberation Serif", "fontSize": 17, "align": "left", "baseline": "middle"}, "encoding": {"text": {"field": "s"}, "color": {"field": "t", "type": "nominal", "legend": null, "scale": {"domain": ["k","r","b"], "range": ["#000000","#ff0000","#0000ff"]}}}},
     {"data": {"name": "rdel"}, "mark": {"type": "text", "font": "DejaVu Sans", "fontSize": 17, "align": "right", "baseline": "middle", "color": "#000000"}, "encoding": {"text": {"field": "s"}}},
     {"data": {"name": "rstart"}, "mark": {"type": "point", "filled": true, "fill": "#9acd32", "stroke": "#000000", "strokeWidth": 1.2, "size": 75, "opacity": 1}},
     {"data": {"name": "rend"}, "mark": {"type": "point", "filled": true, "fill": "#ffffff", "stroke": "#000000", "strokeWidth": 1.5, "size": 75, "opacity": 1}}
    ]
   }
  ]
 }
]
}
